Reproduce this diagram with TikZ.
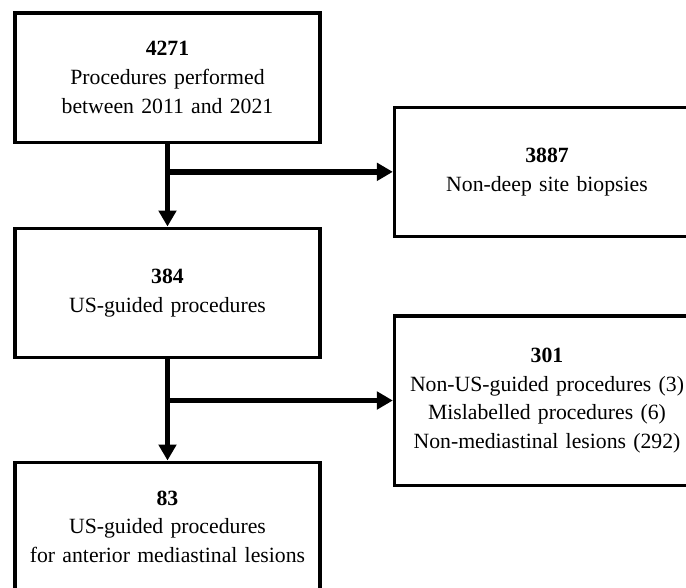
\documentclass[tikz,border=0pt]{standalone}
\usepackage{fontspec}
\setmainfont{Liberation Serif}
\usetikzlibrary{calc, positioning, arrows.meta}

\begin{document}
\begin{tikzpicture}[
    node distance=62pt,
    every node/.style={draw, line width=2.5pt, rectangle, minimum width=228.75pt, minimum height=97pt, text width=222pt, align=center, font=\fontsize{16.3}{21.5}\selectfont},
    tall/.style={minimum height=127pt},
    arrow/.style={-{Triangle[width=13pt,length=12pt]}, line width=4.1pt}
]
\clip[use as bounding box] (-125.625pt,58.125pt) rectangle (388.875pt,-382.125pt);

\node (1) at (0,0) {\textbf{4271}\\Procedures performed\\between 2011 and 2021};
\node[below=of 1] (2) {\textbf{384}\\US-guided procedures};
\node[below=76pt of 2] (3) {\textbf{83}\\US-guided procedures\\for anterior mediastinal lesions};

\coordinate (b1) at ([yshift=-21pt]1.south);
\coordinate (b2) at ([yshift=-31pt]2.south);

\node[right=169pt of b1] (e1) {\textbf{3887}\\Non-deep site biopsies};
\node[tall, right=169pt of b2] (e2) {\textbf{301}\\Non-US-guided procedures (3)\\Mislabelled procedures (6)\\Non-mediastinal lesions (292)};

\draw[arrow] (1) -- (2);
\draw[arrow] (2) -- (3);
\draw[arrow] (b1) -- (e1);
\draw[arrow] (b2) -- (e2);
\end{tikzpicture}
\end{document}
